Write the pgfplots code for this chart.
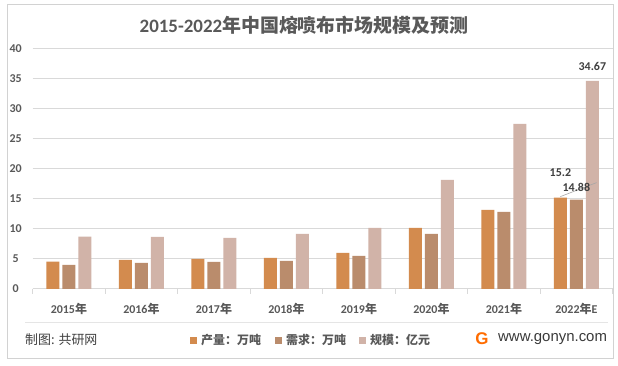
\documentclass[border=0pt]{standalone}
\usepackage{pgfplots}
\pgfplotsset{compat=1.18}
\usepackage{fontspec}
\setmainfont{Carlito}
\newfontfamily\cjk{Noto Sans CJK SC}
\newfontfamily\lsans{Liberation Sans}
\definecolor{cA}{RGB}{211,139,78}
\definecolor{cB}{RGB}{186,140,108}
\definecolor{cC}{RGB}{209,179,168}
\definecolor{txt}{RGB}{89,89,89}
\definecolor{dark}{RGB}{64,64,64}
\definecolor{gridc}{RGB}{217,217,217}
\begin{document}
\begin{tikzpicture}[x=1bp,y=1bp]
\useasboundingbox (0,0) rectangle (618,365);
\fill[white] (0,0) rectangle (618,365);
\draw[gray!35, line width=0.8bp] (7,7) rectangle (613,361);
\node[font=\fontsize{19}{21}\selectfont\bfseries, text=txt] at (304,340) {2015-2022{\cjk 年中国熔喷布市场规模及预测}};
\begin{axis}[
  at={(45,127)}, anchor=south west,
  scale only axis, width=580bp, height=240bp,
  xmin=-0.5, xmax=7.5, ymin=0, ymax=40,
  ybar=3bp, bar width=13bp,
  ytick={0,5,...,40},
  ymajorgrids, grid style={draw=gridc, line width=0.8bp},
  axis x line*=bottom, axis y line*=left,
  y axis line style={draw=none},
  x axis line style={draw=gridc, line width=0.8bp, -},
  ytick style={draw=none},
  xtick={0,...,7},
  xticklabels={2015{\cjk 年},2016{\cjk 年},2017{\cjk 年},2018{\cjk 年},2019{\cjk 年},2020{\cjk 年},2021{\cjk 年},2022{\cjk 年}E},
  xtick style={draw=none},
  extra x ticks={-0.5,0.5,...,7.5},
  extra x tick labels={},
  extra x tick style={major tick length=5bp, tick align=outside, xtick style={draw=gridc, line width=0.8bp}},
  xticklabel style={font=\fontsize{12}{14}\selectfont\bfseries, text=txt, anchor=center, yshift=-16bp},
  yticklabel style={font=\fontsize{12}{14}\selectfont\bfseries, text=txt, anchor=center, xshift=-17bp},
  /pgf/number format/assume math mode=true,
  clip=false,
]
\addplot[fill=cA, draw=none] coordinates {(0,4.55) (1,4.83) (2,5.0) (3,5.17) (4,6.0) (5,10.17) (6,13.17) (7,15.2)};
\addplot[fill=cB, draw=none] coordinates {(0,4.0) (1,4.33) (2,4.5) (3,4.67) (4,5.5) (5,9.17) (6,12.83) (7,14.88)};
\addplot[fill=cC, draw=none] coordinates {(0,8.7) (1,8.67) (2,8.5) (3,9.17) (4,10.17) (5,18.17) (6,27.5) (7,34.67)};
\draw[gray!70, line width=0.6bp] ([xshift=-16bp, yshift=1bp]axis cs:7,15.2) -- ++(0,14bp);
\node[font=\fontsize{12}{14}\selectfont\bfseries, text=dark] at ([xshift=-16bp, yshift=25bp]axis cs:7,15.2) {15.2};
\node[font=\fontsize{12}{14}\selectfont\bfseries, text=dark] at ([yshift=12bp]axis cs:7,14.88) {14.88};
\node[font=\fontsize{12}{14}\selectfont\bfseries, text=dark] at ([xshift=16bp, yshift=14bp]axis cs:7,34.67) {34.67};
\end{axis}
\draw[gray!20, line width=0.8bp] (25,43) -- (608,43);
\node[anchor=west, font=\cjk\fontsize{13}{15}\selectfont, text=dark, inner sep=0] at (25,25) {制图: 共研网};
\fill[cA] (190,21.5) rectangle (197,28.5);
\node[anchor=west, font=\cjk\fontsize{12}{14}\selectfont\bfseries, text=txt, inner sep=0] at (201,25) {产量：万吨};
\fill[cB] (275,21.5) rectangle (282,28.5);
\node[anchor=west, font=\cjk\fontsize{12}{14}\selectfont\bfseries, text=txt, inner sep=0] at (286,25) {需求：万吨};
\fill[cC] (359,21.5) rectangle (366,28.5);
\node[anchor=west, font=\cjk\fontsize{12}{14}\selectfont\bfseries, text=txt, inner sep=0] at (370,25) {规模：亿元};
\node[font=\lsans\fontsize{17}{18}\selectfont\bfseries, text=orange!85!red, inner sep=0] at (482,26) {G};
\node[anchor=west, font=\lsans\fontsize{15}{17}\selectfont, text=dark!90!black, inner sep=0] at (498,26) {www.gonyn.com};
\end{tikzpicture}
\end{document}
